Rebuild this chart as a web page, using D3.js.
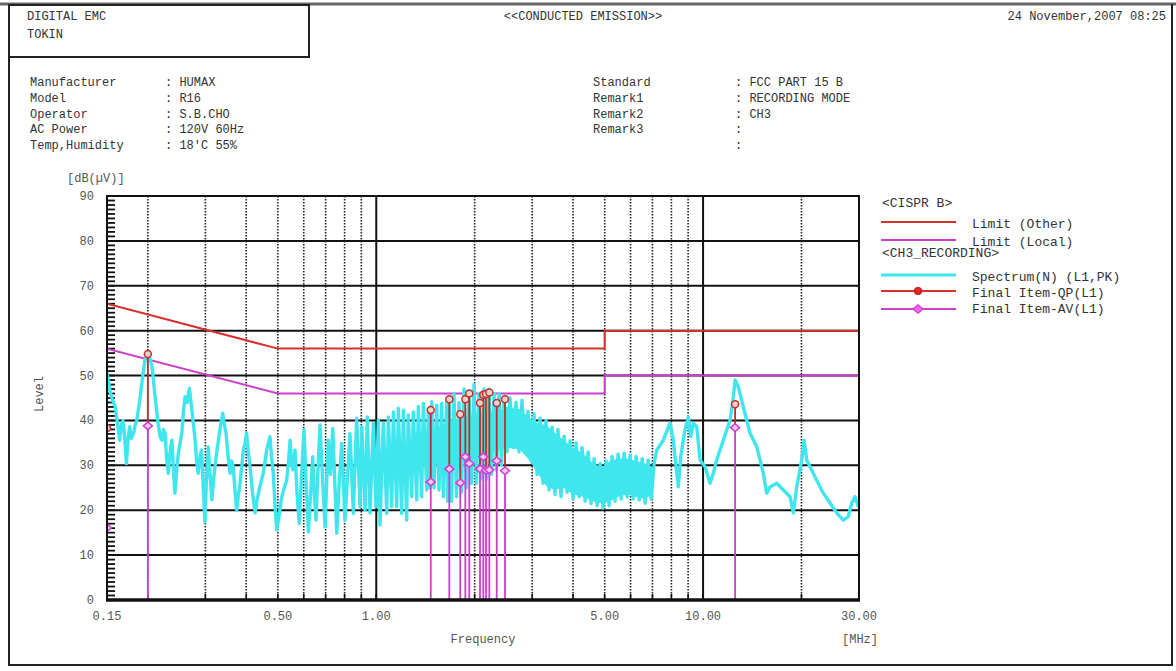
<!DOCTYPE html>
<html>
<head>
<meta charset="utf-8">
<script src="https://cdn.jsdelivr.net/npm/d3@7/dist/d3.min.js"></script>
<style>
  body { margin: 0; background: #fff; }
  text { font-family: "Liberation Mono", "DejaVu Sans Mono", monospace; font-size: 12px; fill: #333; }
</style>
</head>
<body>
<svg id="chart" width="1176" height="671"></svg>
<script>
/* infos de l'entête */
var leftLabels = ["Manufacturer", "Model", "Operator", "AC Power", "Temp,Humidity"];
var leftValues = [": HUMAX", ": R16", ": S.B.CHO", ": 120V   60Hz", ": 18'C  55%"];
var rightLabels = ["Standard", "Remark1", "Remark2", "Remark3", ""];
var rightValues = [": FCC PART 15 B", ": RECORDING MODE", ": CH3", ":", ":"];

/* axes */
var yTicks = [0, 10, 20, 30, 40, 50, 60, 70, 80, 90];
var xTickValues = [0.15, 0.5, 1, 5, 10, 30];
var xTickLabels = ["0.15", "0.50", "1.00", "5.00", "10.00", "30.00"];
var dottedGrid = [0.2, 0.3, 0.4, 0.5, 0.6, 0.7, 0.8, 0.9, 2, 3, 4, 5, 6, 7, 8, 9, 20];
var solidGrid = [1, 10];

/* limites CISPR B */
var limitFreq = [0.15, 0.5, 5, 5, 30];
var limitOther = [66, 56, 56, 60, 60];
var limitLocal = [56, 46, 46, 50, 50];

/* spectre (MHz, dBuV) */
var specFreq = [
  0.150, 0.153, 0.156, 0.159, 0.162, 0.164, 0.166, 0.168, 0.170, 0.172, 0.174, 0.176, 0.178, 0.181, 0.183, 0.185,
  0.189, 0.193, 0.196, 0.201, 0.206, 0.210, 0.215, 0.218, 0.221, 0.223, 0.226, 0.228, 0.231, 0.234, 0.237, 0.240,
  0.242, 0.245, 0.248, 0.251, 0.254, 0.257, 0.260, 0.264, 0.268, 0.272, 0.276, 0.279, 0.282, 0.285, 0.289, 0.292,
  0.296, 0.299, 0.302, 0.306, 0.310, 0.314, 0.318, 0.321, 0.325, 0.329, 0.334, 0.339, 0.343, 0.347, 0.352, 0.357,
  0.361, 0.365, 0.370, 0.374, 0.378, 0.383, 0.388, 0.392, 0.397, 0.401, 0.406, 0.411, 0.418, 0.426, 0.431, 0.436,
  0.443, 0.451, 0.457, 0.462, 0.468, 0.473, 0.478, 0.484, 0.490, 0.496, 0.505, 0.514, 0.523, 0.532, 0.539, 0.545,
  0.551, 0.556, 0.560, 0.564, 0.572, 0.581, 0.590, 0.601, 0.610, 0.620, 0.630, 0.639, 0.646, 0.654, 0.663, 0.673,
  0.685, 0.697, 0.713, 0.724, 0.736, 0.757, 0.770, 0.784, 0.802, 0.831, 0.851, 0.871, 0.892, 0.903, 0.924, 0.939,
  0.957, 0.980, 0.998, 1.015, 1.027, 1.051, 1.077, 1.089, 1.115, 1.128, 1.155, 1.168, 1.196, 1.210, 1.239, 1.253,
  1.284, 1.298, 1.330, 1.345, 1.377, 1.393, 1.427, 1.443, 1.460, 1.478, 1.502, 1.531, 1.556, 1.586, 1.604, 1.643,
  1.656, 1.670, 1.700, 1.729, 1.760, 1.791, 1.823, 1.855, 1.888, 1.921, 1.956, 1.991, 2.026, 2.062, 2.099, 2.136,
  2.174, 2.213, 2.252, 2.293, 2.333, 2.375, 2.417, 2.460, 2.512, 2.566, 2.621, 2.677, 2.734, 2.792, 2.852, 2.913,
  2.975, 3.039, 3.104, 3.170, 3.238, 3.307, 3.378, 3.450, 3.524, 3.599, 3.676, 3.755, 3.835, 3.917, 4.001, 4.087,
  4.174, 4.263, 4.355, 4.448, 4.543, 4.640, 4.739, 4.841, 4.944, 5.050, 5.158, 5.268, 5.381, 5.496, 5.614, 5.734,
  5.857, 5.982, 6.110, 6.241, 6.374, 6.511, 6.650, 6.792, 6.937, 7.086, 7.216, 7.557, 7.922, 8.110, 8.264, 8.400,
  8.543, 8.807, 9.014, 9.167, 9.337, 9.563, 9.788, 10.14, 10.50, 10.75, 11.01, 11.53, 12.09, 12.38, 12.53, 12.82,
  13.28, 13.92, 14.60, 15.29, 15.66, 16.03, 16.81, 17.61, 18.46, 18.89, 19.35, 20.04, 20.37, 20.76, 21.25, 22.27,
  23.33, 24.46, 25.64, 26.86, 27.82, 28.50, 29.17, 29.85
];
var specLevel = [
  50.5, 46.8, 44.5, 43.0, 38.6, 35.6, 39.0, 40.0, 36.0, 30.4, 36.0, 38.6, 36.0, 37.2, 39.0, 40.0,
  44.5, 50.0, 53.5, 55.0, 52.0, 46.0, 39.4, 36.5, 35.6, 38.0, 37.2, 32.0, 28.2, 33.0, 35.6, 28.0,
  23.8, 29.0, 32.7, 35.0, 37.0, 42.0, 45.3, 44.0, 47.2, 43.0, 39.0, 35.6, 31.0, 28.2, 32.0, 33.4,
  24.0, 17.4, 26.0, 34.1, 28.0, 22.3, 27.0, 29.7, 33.0, 35.6, 39.0, 41.6, 39.0, 37.2, 32.0, 28.2,
  31.0, 29.7, 24.0, 20.0, 23.0, 26.0, 30.0, 33.4, 35.0, 37.2, 33.0, 29.7, 24.0, 19.4, 22.0, 23.8,
  26.0, 28.2, 31.0, 33.4, 35.0, 36.4, 32.0, 28.2, 21.0, 15.6, 19.0, 23.0, 25.0, 26.7, 31.0, 35.6,
  30.0, 29.0, 31.0, 33.4, 24.0, 17.1, 27.0, 37.9, 26.0, 15.2, 24.0, 31.9, 24.0, 17.8, 29.0, 39.0,
  27.0, 16.3, 35.6, 28.0, 38.2, 14.9, 26.0, 34.9, 17.8, 37.1, 19.3, 40.5, 20.8, 38.6, 20.0, 40.8,
  19.4, 39.4, 20.8, 40.1, 16.7, 39.4, 19.3, 40.8, 20.8, 41.9, 20.8, 42.7, 19.3, 42.3, 17.8, 41.2,
  23.0, 41.9, 22.3, 43.1, 23.0, 43.8, 24.5, 42.3, 25.0, 44.2, 25.0, 43.4, 24.5, 43.8, 23.0, 44.2,
  22.0, 45.0, 22.0, 46.0, 23.0, 44.0, 24.0, 47.0, 25.0, 46.0, 26.0, 48.0, 26.0, 46.0, 27.0, 47.0,
  27.0, 47.0, 28.0, 46.0, 29.0, 46.0, 30.0, 45.0, 33.0, 45.0, 34.0, 44.0, 33.0, 44.5, 33.5, 42.0,
  31.0, 41.5, 28.0, 40.5, 26.0, 40.0, 24.5, 38.5, 23.5, 38.0, 23.0, 36.5, 24.0, 35.5, 22.5, 35.0,
  23.0, 34.0, 22.0, 33.0, 21.5, 31.5, 21.0, 30.5, 20.5, 31.0, 21.0, 32.0, 22.0, 32.5, 22.5, 32.7,
  23.0, 32.3, 22.5, 32.0, 22.3, 31.5, 21.6, 31.2, 22.5, 30.5, 33.4, 35.6, 39.4, 35.6, 29.7, 25.2,
  31.9, 37.9, 40.8, 36.4, 39.4, 38.6, 31.2, 29.7, 26.0, 28.2, 31.2, 35.6, 40.0, 45.3, 49.0, 47.5,
  43.0, 37.2, 34.1, 28.2, 23.8, 25.2, 26.0, 24.5, 23.0, 19.4, 25.2, 31.2, 35.6, 31.2, 29.7, 26.7,
  23.8, 21.6, 19.4, 17.8, 18.6, 21.6, 23.0, 20.8
];

/* zone de bruit dense du spectre : enveloppe lue (haut / bas) */
var bandFreq = [1.30, 1.50, 1.70, 1.90, 2.10, 2.30, 2.50, 2.75, 2.95, 3.10, 3.30, 3.50, 3.75, 4.00, 4.30, 4.60,
  4.90, 5.20, 5.50, 5.85, 6.20, 6.60, 7.00];
var bandTop = [37, 38, 40, 41, 42, 42, 43, 42.5, 40.5, 39.5, 39, 37.5, 35.5, 34, 32.5, 30.5,
  29.5, 31, 31.5, 31.5, 31, 30.5, 29.5];
var bandBottom = [30, 31, 31, 31, 32, 33, 34, 33.5, 31, 28.5, 25.5, 24.5, 25, 23.5, 23, 22,
  21.5, 22, 23, 23.5, 23, 22.5, 23.5];

/* points finaux QP / AV */
var finalFreq = [0.200, 1.468, 1.673, 1.807, 1.873, 1.926, 2.077, 2.126, 2.167, 2.218, 2.337, 2.477, 12.53];
var finalQP = [54.8, 42.3, 44.7, 41.4, 44.7, 46.0, 43.9, 45.7, 45.9, 46.2, 43.9, 44.7, 43.6];
var finalAV = [38.8, 26.3, 29.2, 26.1, 31.9, 30.4, 29.2, 31.9, 28.9, 29.0, 31.0, 28.8, 38.4];
/* marqueurs coupés au bord gauche */
var edgeQP = 38.3, edgeAV = 16.1;

/* légende */
var legendItems = [
  { label: "<CISPR B>", kind: "title" },
  { label: "Limit (Other)", kind: "red" },
  { label: "Limit (Local)", kind: "mag" },
  { label: "<CH3_RECORDING>", kind: "title" },
  { label: "Spectrum(N) (L1,PK)", kind: "cyan" },
  { label: "Final Item-QP(L1)", kind: "qp" },
  { label: "Final Item-AV(L1)", kind: "av" }
];

var RED = "#d8302c", MAG = "#cc3fcc", CYAN = "#3fe6ee";

var svg = d3.select("#chart");
svg.append("rect").attr("width", 1176).attr("height", 671).attr("fill", "#fff");

/* cadre de la page */
svg.append("line").attr("x1", 0).attr("x2", 1176).attr("y1", 4).attr("y2", 4)
    .attr("stroke", "#666").attr("stroke-width", 3);
svg.append("line").attr("x1", 9).attr("x2", 9).attr("y1", 4).attr("y2", 666)
    .attr("stroke", "#222").attr("stroke-width", 2);
svg.append("line").attr("x1", 1172).attr("x2", 1172).attr("y1", 4).attr("y2", 666)
    .attr("stroke", "#222").attr("stroke-width", 2);
svg.append("line").attr("x1", 9).attr("x2", 1172).attr("y1", 665).attr("y2", 665)
    .attr("stroke", "#222").attr("stroke-width", 2);
svg.append("rect").attr("x", 9).attr("y", 5).attr("width", 300).attr("height", 52)
    .attr("fill", "none").attr("stroke", "#222").attr("stroke-width", 2);

svg.append("text").attr("x", 27).attr("y", 20).text("DIGITAL EMC");
svg.append("text").attr("x", 27).attr("y", 38).text("TOKIN");
svg.append("text").attr("x", 583).attr("y", 20).attr("text-anchor", "middle").text("<<CONDUCTED EMISSION>>");
svg.append("text").attr("x", 1166).attr("y", 20).attr("text-anchor", "end").text("24 November,2007 08:25");

/* infos */
leftLabels.forEach(function (d, i) {
    svg.append("text").attr("x", 30).attr("y", 86 + i * 15.8).text(d);
    svg.append("text").attr("x", 165).attr("y", 86 + i * 15.8).text(leftValues[i]);
});
rightLabels.forEach(function (d, i) {
    svg.append("text").attr("x", 593).attr("y", 86 + i * 15.8).text(d);
    svg.append("text").attr("x", 735).attr("y", 86 + i * 15.8).text(rightValues[i]);
});

/* échelles */
var x = d3.scaleLog().domain([0.15, 30]).range([107, 859]);
var y = d3.scaleLinear().domain([0, 90]).range([600, 196]);

svg.append("clipPath").attr("id", "plotclip").append("rect")
    .attr("x", 107).attr("y", 196).attr("width", 752).attr("height", 404);

/* grille */
var grid = svg.append("g");
grid.selectAll(".hg").data(yTicks.slice(1, -1)).enter().append("line")
    .attr("x1", 107).attr("x2", 859)
    .attr("y1", function (d) { return y(d); }).attr("y2", function (d) { return y(d); })
    .attr("stroke", "#111").attr("stroke-width", 2);
grid.selectAll(".dg").data(dottedGrid).enter().append("line")
    .attr("x1", function (d) { return x(d); }).attr("x2", function (d) { return x(d); })
    .attr("y1", 196).attr("y2", 600)
    .attr("stroke", "#222").attr("stroke-width", 1.6).attr("stroke-dasharray", "1.5,1.5");
grid.selectAll(".sg").data(solidGrid).enter().append("line")
    .attr("x1", function (d) { return x(d); }).attr("x2", function (d) { return x(d); })
    .attr("y1", 196).attr("y2", 600)
    .attr("stroke", "#111").attr("stroke-width", 2);

/* petites graduations sur l'axe Y (1 dB) */
grid.selectAll(".yt").data(d3.range(1, 90)).enter().append("line")
    .attr("x1", 107).attr("x2", 115)
    .attr("y1", function (d) { return y(d); }).attr("y2", function (d) { return y(d); })
    .attr("stroke", "#111").attr("stroke-width", 1.8);
/* graduations en bas */
grid.selectAll(".xt").data(dottedGrid.concat(solidGrid)).enter().append("line")
    .attr("x1", function (d) { return x(d); }).attr("x2", function (d) { return x(d); })
    .attr("y1", 600).attr("y2", 594)
    .attr("stroke", "#111").attr("stroke-width", 1.6);

/* limites */
var line = d3.line()
    .x(function (d) { return x(d[0]); })
    .y(function (d) { return y(d[1]); });
var plot = svg.append("g").attr("clip-path", "url(#plotclip)");
plot.append("path").attr("d", line(d3.zip(limitFreq, limitOther)))
    .attr("fill", "none").attr("stroke", RED).attr("stroke-width", 2);
plot.append("path").attr("d", line(d3.zip(limitFreq, limitLocal)))
    .attr("fill", "none").attr("stroke", MAG).attr("stroke-width", 2);

/* spectre : bande dense puis trace */
var band = d3.area()
    .x(function (d) { return x(d[0]); })
    .y0(function (d) { return y(d[2]); })
    .y1(function (d) { return y(d[1]); });
plot.append("path").attr("d", band(d3.zip(bandFreq, bandTop, bandBottom)))
    .attr("fill", CYAN).attr("stroke", "none");
plot.append("path").attr("d", line(d3.zip(specFreq, specLevel)))
    .attr("fill", "none").attr("stroke", CYAN).attr("stroke-width", 3.4)
    .attr("stroke-linejoin", "round");

/* tiges des points finaux */
plot.selectAll(".stav").data(finalFreq).enter().append("line")
    .attr("x1", function (d) { return x(d); }).attr("x2", function (d) { return x(d); })
    .attr("y1", function (d, i) { return y(finalAV[i]); }).attr("y2", y(0))
    .attr("stroke", MAG).attr("stroke-width", 1.8);
plot.selectAll(".stqp").data(finalFreq).enter().append("line")
    .attr("x1", function (d) { return x(d); }).attr("x2", function (d) { return x(d); })
    .attr("y1", function (d, i) { return y(finalQP[i]); })
    .attr("y2", function (d, i) { return y(finalAV[i]); })
    .attr("stroke", "#b8302c").attr("stroke-width", 1.8);

function diamond(cx, cy, s) {
    return "M" + (cx - s) + "," + cy + "L" + cx + "," + (cy - s * 0.85) +
        "L" + (cx + s) + "," + cy + "L" + cx + "," + (cy + s * 0.85) + "Z";
}
plot.selectAll(".mav").data(finalFreq).enter().append("path")
    .attr("d", function (d, i) { return diamond(x(d), y(finalAV[i]), 4.5); })
    .attr("fill", "#f3c6f3").attr("stroke", MAG).attr("stroke-width", 1.5);
plot.selectAll(".mqp").data(finalFreq).enter().append("circle")
    .attr("cx", function (d) { return x(d); })
    .attr("cy", function (d, i) { return y(finalQP[i]); })
    .attr("r", 3.5).attr("fill", "#f1d0d0").attr("stroke", "#c8302c").attr("stroke-width", 1.5);
plot.append("circle").attr("cx", x(0.15)).attr("cy", y(edgeQP)).attr("r", 3.5)
    .attr("fill", "#f1d0d0").attr("stroke", "#c8302c").attr("stroke-width", 1.5);
plot.append("path").attr("d", diamond(x(0.15), y(edgeAV), 4.5))
    .attr("fill", "#f3c6f3").attr("stroke", MAG).attr("stroke-width", 1.5);

/* cadre du graphe */
svg.append("rect").attr("x", 107).attr("y", 196).attr("width", 752).attr("height", 404)
    .attr("fill", "none").attr("stroke", "#111").attr("stroke-width", 2);
svg.append("line").attr("x1", 106).attr("x2", 860).attr("y1", 600).attr("y2", 600)
    .attr("stroke", "#111").attr("stroke-width", 3.5);

/* étiquettes des axes */
svg.selectAll(".ylab").data(yTicks).enter().append("text")
    .attr("x", 94).attr("y", function (d) { return y(d) + 4; })
    .attr("text-anchor", "end").style("fill", "#555").text(function (d) { return d; });
svg.selectAll(".xlab").data(xTickValues).enter().append("text")
    .attr("x", function (d) { return x(d); }).attr("y", 620)
    .attr("text-anchor", "middle").style("fill", "#555")
    .text(function (d, i) { return xTickLabels[i]; });
svg.append("text").attr("x", 67).attr("y", 182).style("fill", "#555").text("[dB(\u00b5V)]");
svg.append("text").attr("transform", "translate(43,394) rotate(-90)")
    .attr("text-anchor", "middle").style("fill", "#555").text("Level");
svg.append("text").attr("x", 483).attr("y", 643).attr("text-anchor", "middle")
    .style("fill", "#555").text("Frequency");
svg.append("text").attr("x", 842).attr("y", 643).style("fill", "#555").text("[MHz]");

/* légende */
var legendY = [207, 222, 240, 257, 275, 291, 309];
var lg = svg.append("g");
legendItems.forEach(function (d, i) {
    var ly = legendY[i];
    if (d.kind === "title") {
        lg.append("text").attr("x", 882).attr("y", ly).style("font-size", "13px").text(d.label);
        return;
    }
    var col = d.kind === "red" || d.kind === "qp" ? RED : d.kind === "cyan" ? CYAN : MAG;
    lg.append("line").attr("x1", 881).attr("x2", 956).attr("y1", ly).attr("y2", ly)
        .attr("stroke", col).attr("stroke-width", d.kind === "cyan" ? 3 : 2);
    if (d.kind === "qp") {
        lg.append("circle").attr("cx", 918).attr("cy", ly).attr("r", 3.5)
            .attr("fill", "#e02828").attr("stroke", "#c02020").attr("stroke-width", 1.2);
    }
    if (d.kind === "av") {
        lg.append("path").attr("d", diamond(918, ly, 5))
            .attr("fill", "#ee66ee").attr("stroke", MAG).attr("stroke-width", 1.2);
    }
    lg.append("text").attr("x", 972).attr("y", ly + (d.kind === "av" ? 4 : 6))
        .style("font-size", "13px").text(d.label);
});
</script>
</body>
</html>
